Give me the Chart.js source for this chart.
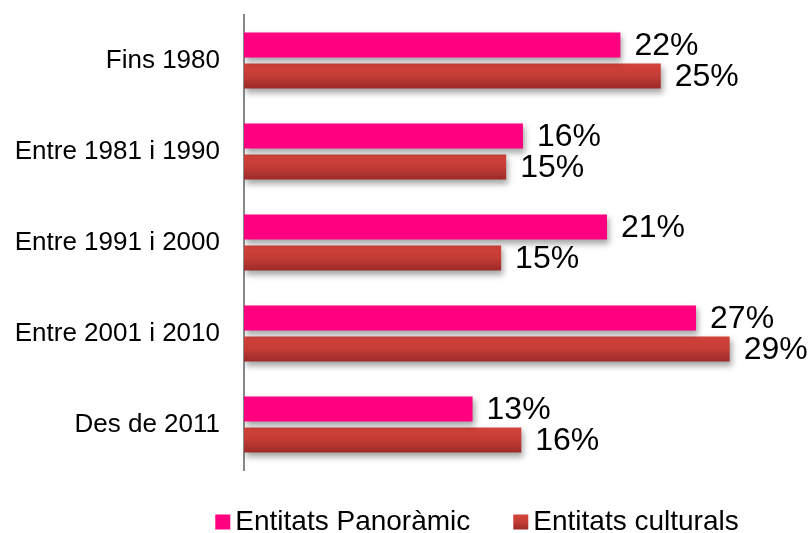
<!DOCTYPE html>
<html>
<head>
<meta charset="utf-8">
<script src="https://cdn.jsdelivr.net/npm/chart.js@4.4.0/dist/chart.umd.min.js"></script>
<style>
  html, body { margin: 0; padding: 0; background: #fff; }
  #wrap { width: 812px; height: 533px; }
</style>
</head>
<body>
<div id="wrap"><canvas id="chart"></canvas></div>
<script>
var categories = ['Fins 1980', 'Entre 1981 i 1990', 'Entre 1991 i 2000', 'Entre 2001 i 2010', 'Des de 2011'];
var seriesNames = ['Entitats Panoràmic', 'Entitats culturals'];
var panoramic = [22.4, 16.6, 21.6, 26.9, 13.6];
var culturals = [24.8, 15.6, 15.3, 28.9, 16.5];
var panoramicLabels = ['22%', '16%', '21%', '27%', '13%'];
var culturalsLabels = ['25%', '15%', '15%', '29%', '16%'];

var FONT = 'Liberation Sans, Arial, sans-serif';
var CAT_PCT = 0.68, BAR_PCT = 0.81;

function redGradient(ctx, top, bottom) {
    var g = ctx.createLinearGradient(0, top, 0, bottom);
    g.addColorStop(0, '#d2433b');
    g.addColorStop(0.5, '#c43c35');
    g.addColorStop(1, '#9b2a29');
    return g;
}

// each red bar gets its own top-to-bottom gradient
function redBarColor(c) {
    var y = c.chart.scales.y;
    if (!y || c.dataIndex === undefined || !c.chart.chartArea) return '#c43c35';
    var slot = (y.bottom - y.top) / categories.length * CAT_PCT / 2;
    var h = slot * BAR_PCT;
    var cy = y.getPixelForValue(c.dataIndex) + slot / 2;
    return redGradient(c.chart.ctx, cy - h / 2, cy + h / 2);
}

// drop shadow on the bars, value labels after
var barLook = {
    id: 'barLook',
    beforeDatasetsDraw: function (chart) {
        var ctx = chart.ctx;
        ctx.save();
        ctx.shadowColor = 'rgba(0,0,0,0.35)';
        ctx.shadowBlur = 6;
        ctx.shadowOffsetX = 2;
        ctx.shadowOffsetY = 4;
    },
    afterDatasetsDraw: function (chart) {
        var ctx = chart.ctx;
        ctx.restore();
        var texts = [panoramicLabels, culturalsLabels];
        ctx.save();
        ctx.font = '32px ' + FONT;
        ctx.fillStyle = '#000';
        ctx.textAlign = 'left';
        ctx.textBaseline = 'middle';
        [0, 1].forEach(function (d) {
            chart.getDatasetMeta(d).data.forEach(function (bar, i) {
                ctx.fillText(texts[d][i], bar.x + 14, bar.y + 1);
            });
        });
        ctx.restore();
    }
};

// legend drawn under the plot, small gap between box and text
var bottomLegend = {
    id: 'bottomLegend',
    afterDraw: function (chart) {
        var ctx = chart.ctx;
        var box = 15, gap = 5, spacing = 43, y = 522;
        ctx.save();
        ctx.font = '28px ' + FONT;
        ctx.textBaseline = 'middle';
        ctx.textAlign = 'left';
        var widths = chart.data.datasets.map(function (ds) { return ctx.measureText(ds.label).width; });
        var total = 0;
        widths.forEach(function (w, i) { total += box + gap + w + (i ? spacing : 0); });
        var x = 477 - total / 2;
        chart.data.datasets.forEach(function (ds, i) {
            ctx.fillStyle = i === 1 ? redGradient(ctx, y - box / 2, y + box / 2) : ds.backgroundColor;
            ctx.fillRect(x, y - box / 2, box, box);
            ctx.fillStyle = '#000';
            ctx.fillText(ds.label, x + box + gap, y);
            x += box + gap + widths[i] + spacing;
        });
        ctx.restore();
    }
};

new Chart(document.getElementById('chart'), {
    type: 'bar',
    data: {
        labels: categories,
        datasets: [{
            label: seriesNames[0],
            data: panoramic,
            backgroundColor: '#ff0080',
            borderWidth: 0,
            categoryPercentage: CAT_PCT,
            barPercentage: BAR_PCT
        }, {
            label: seriesNames[1],
            data: culturals,
            backgroundColor: redBarColor,
            borderWidth: 0,
            categoryPercentage: CAT_PCT,
            barPercentage: BAR_PCT
        }]
    },
    options: {
        indexAxis: 'y',
        responsive: true,
        maintainAspectRatio: false,
        animation: false,
        layout: { padding: { top: 15, left: 0, right: 0, bottom: 63 } },
        scales: {
            x: {
                display: false,
                min: 0,
                max: 33.8
            },
            y: {
                afterFit: function (scale) {
                    scale.width = 244;
                    scale.paddingTop = 0;
                    scale.paddingBottom = 0;
                },
                grid: { display: false, drawTicks: false },
                border: { display: true, color: '#888', width: 2 },
                ticks: {
                    color: '#000',
                    padding: 24,
                    font: { family: FONT, size: 26 }
                }
            }
        },
        plugins: {
            legend: { display: false },
            tooltip: { enabled: false }
        }
    },
    plugins: [barLook, bottomLegend]
});
</script>
</body>
</html>
